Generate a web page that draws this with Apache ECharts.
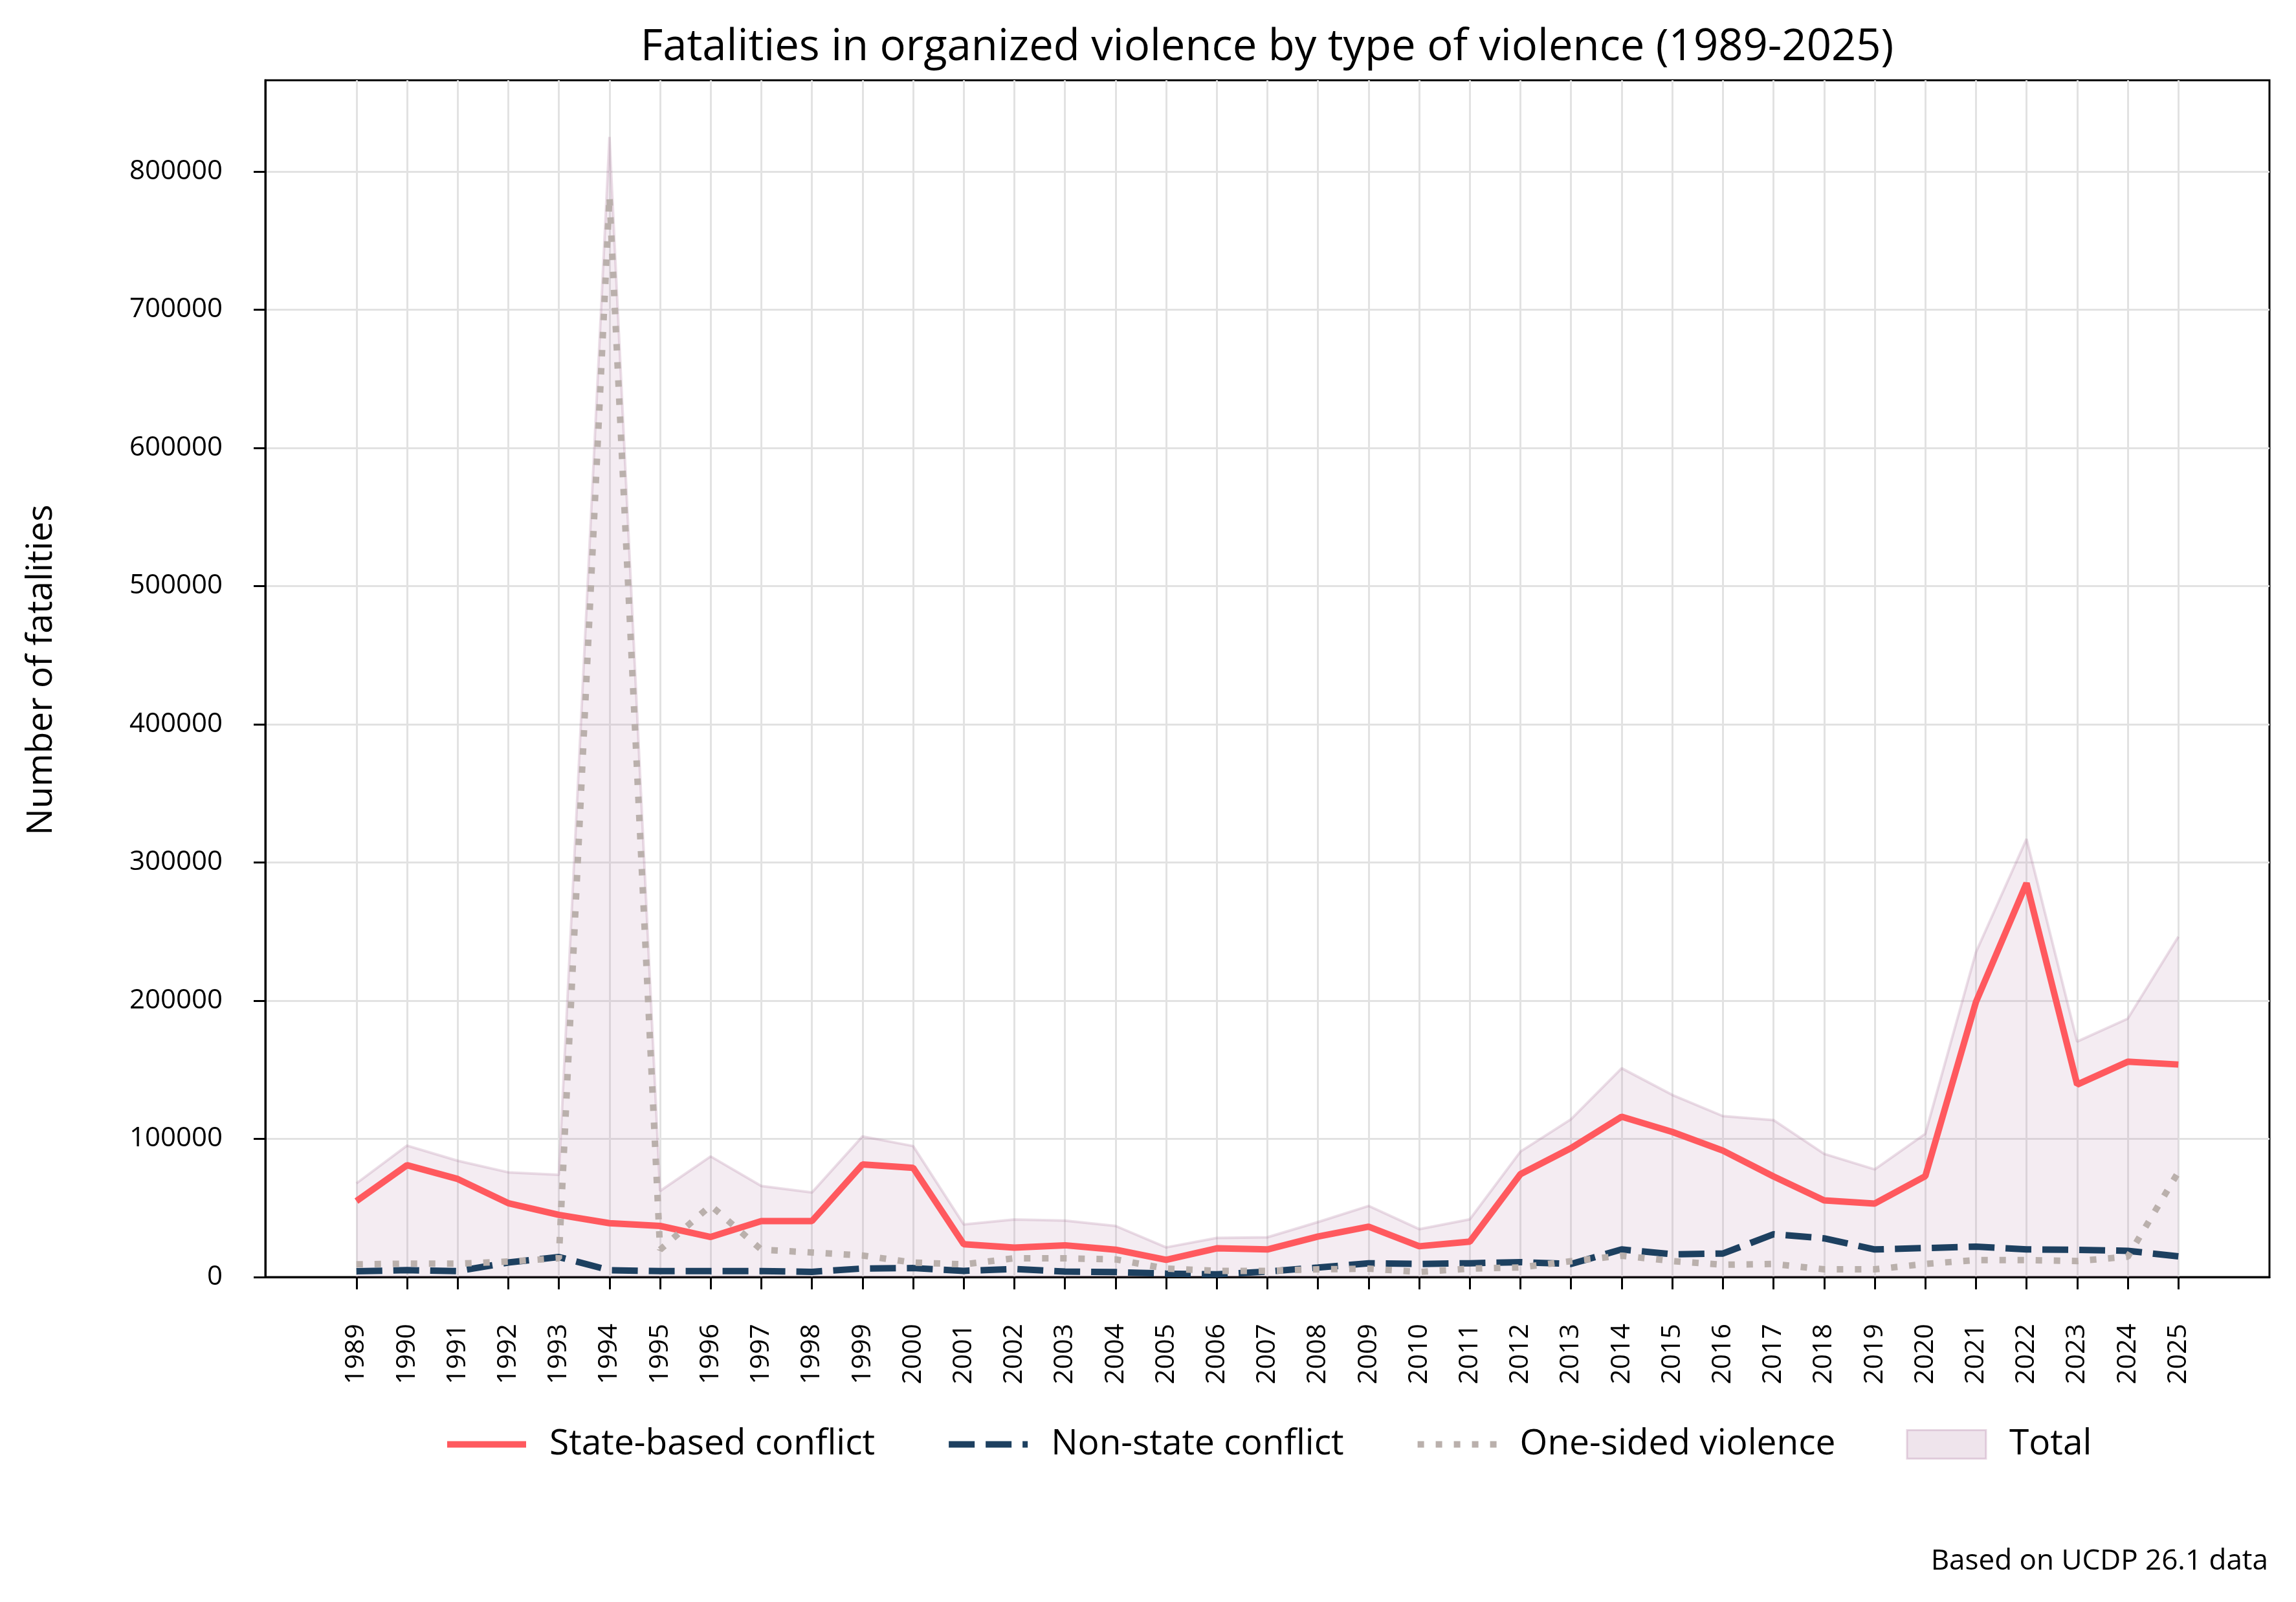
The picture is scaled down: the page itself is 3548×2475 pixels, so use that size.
<!DOCTYPE html>
<html>
<head>
<meta charset="utf-8">
<script src="https://cdn.jsdelivr.net/npm/echarts@6/dist/echarts.min.js"></script>
<style>
  html, body { margin: 0; padding: 0; background: #fff; }
  #chart { width: 3548px; height: 2475px; }
</style>
</head>
<body>
<div id="chart"></div>
<script>
// UCDP fatalities by type of violence
const years = [1989, 1990, 1991, 1992, 1993, 1994, 1995, 1996, 1997, 1998, 1999, 2000,
  2001, 2002, 2003, 2004, 2005, 2006, 2007, 2008, 2009, 2010, 2011, 2012, 2013,
  2014, 2015, 2016, 2017, 2018, 2019, 2020, 2021, 2022, 2023, 2024, 2025];

const stateBased = [55000, 81000, 71000, 53500, 45000, 39000, 37000, 29000, 40500, 40500,
  81500, 79000, 23800, 21300, 23000, 19800, 12500, 20800, 20000, 29300, 36500, 22300,
  25600, 74500, 93300, 116000, 105000, 91500, 72800, 55500, 53200, 73000, 199000,
  285000, 139300, 155800, 153800];

const nonState = [4200, 5000, 4300, 10500, 14500, 5000, 4300, 4300, 4300, 3800, 6200, 6500,
  4500, 5800, 4000, 3600, 2500, 2000, 4000, 6900, 10000, 9500, 10000, 10800, 9500,
  20000, 16500, 17000, 31000, 28000, 20000, 21000, 22000, 20000, 19700, 19000, 15000];

const oneSided = [9200, 9700, 9700, 11200, 13600, 782000, 19800, 51800, 19800, 17800, 15600,
  10500, 9200, 13600, 13600, 12800, 6100, 4500, 4500, 5600, 6100, 3700, 6100, 7000,
  11500, 15500, 11600, 8900, 9500, 5600, 5600, 9500, 12300, 12300, 11600, 14700, 76000];

const total = [67800, 95100, 84200, 75800, 74000, 825000, 62300, 87300, 65900, 61200,
  101800, 94800, 38100, 41700, 40900, 37000, 21500, 28300, 28800, 39800, 51500, 34700,
  41800, 90800, 114200, 151100, 131800, 116500, 113600, 89200, 77900, 103700, 235000,
  317000, 170400, 187000, 246300];

const yTicks = [0, 100000, 200000, 300000, 400000, 500000, 600000, 700000, 800000];

const FONT = '"Open Sans", "Noto Sans", sans-serif';
const pairs = arr => years.map((y, i) => [y, arr[i]]);

const chart = echarts.init(document.getElementById('chart'), null, { renderer: 'canvas' });

chart.setOption({
  animation: false,
  backgroundColor: '#ffffff',
  textStyle: { fontFamily: FONT },
  grid: {
    left: 410, right: 41, top: 124, bottom: 502,
    show: true, borderColor: '#000', borderWidth: 3, backgroundColor: 'transparent'
  },
  xAxis: {
    type: 'value',
    min: 1987.2,
    max: 2026.8,
    axisLine: { show: true, onZero: false, lineStyle: { color: '#000', width: 3 } },
    axisTick: { show: true, length: 19, lineStyle: { color: '#000', width: 3 }, customValues: years },
    axisLabel: {
      customValues: years, rotate: 90, margin: 72,
      fontSize: 41, color: '#000', fontFamily: FONT,
      formatter: v => String(v)
    },
    splitLine: { show: true, lineStyle: { color: '#e2e2e2', width: 3 } }
  },
  yAxis: {
    type: 'value',
    min: 0,
    max: 866000,
    axisLine: { show: true, lineStyle: { color: '#000', width: 3 } },
    axisTick: { show: true, length: 18, lineStyle: { color: '#000', width: 3 }, customValues: yTicks },
    axisLabel: {
      customValues: yTicks, margin: 66,
      fontSize: 42, color: '#000', fontFamily: FONT,
      formatter: v => String(v)
    },
    splitLine: { show: true, lineStyle: { color: '#e2e2e2', width: 3 } }
  },
  legend: {
    left: 686,
    top: 2204,
    padding: 0,
    itemWidth: 122,
    itemHeight: 44,
    itemGap: 109,
    lineStyle: { width: 10 },
    itemStyle: { opacity: 0 },
    textStyle: { fontSize: 55, color: '#000', fontFamily: FONT, padding: [0, 0, 0, 31] },
    data: [
      'State-based conflict',
      'Non-state conflict',
      'One-sided violence',
      {
        name: 'Total', icon: 'rect',
        itemStyle: { opacity: 1, color: 'rgba(176,122,161,0.2)', borderColor: 'rgba(176,122,161,0.3)', borderWidth: 3 }
      }
    ]
  },
  graphic: [
    {
      type: 'text', x: 1958, y: 74,
      style: {
        text: 'Fatalities in organized violence by type of violence (1989-2025)',
        fill: '#000', font: '67px ' + FONT, align: 'center', verticalAlign: 'middle'
      }
    },
    {
      type: 'text', x: 64, y: 1035, rotation: Math.PI / 2,
      style: {
        text: 'Number of fatalities',
        fill: '#000', font: '55px ' + FONT, align: 'center', verticalAlign: 'middle'
      }
    },
    {
      type: 'text', x: 3505, y: 2412,
      style: {
        text: 'Based on UCDP 26.1 data',
        fill: '#000', font: '44px ' + FONT, align: 'right', verticalAlign: 'middle'
      }
    }
  ],
  series: [
    {
      name: 'Total', type: 'line', data: pairs(total), symbol: 'none', z: 1,
      lineStyle: { color: 'rgba(176,122,161,0.25)', width: 4 },
      itemStyle: { color: 'rgba(176,122,161,0.2)' },
      areaStyle: { color: 'rgba(176,122,161,0.2)', origin: 'start' }
    },
    {
      name: 'State-based conflict', type: 'line', data: pairs(stateBased), symbol: 'none', z: 2,
      lineStyle: { color: '#ff595e', width: 10 },
      itemStyle: { color: '#ff595e' }
    },
    {
      name: 'Non-state conflict', type: 'line', data: pairs(nonState), symbol: 'none', z: 3,
      lineStyle: { color: '#1d4060', width: 10, type: [40, 17] },
      itemStyle: { color: '#1d4060' }
    },
    {
      name: 'One-sided violence', type: 'line', data: pairs(oneSided), symbol: 'none', z: 4,
      lineStyle: { color: '#bab0ac', width: 10, type: [10, 18] },
      itemStyle: { color: '#bab0ac' }
    }
  ]
});
</script>
</body>
</html>
